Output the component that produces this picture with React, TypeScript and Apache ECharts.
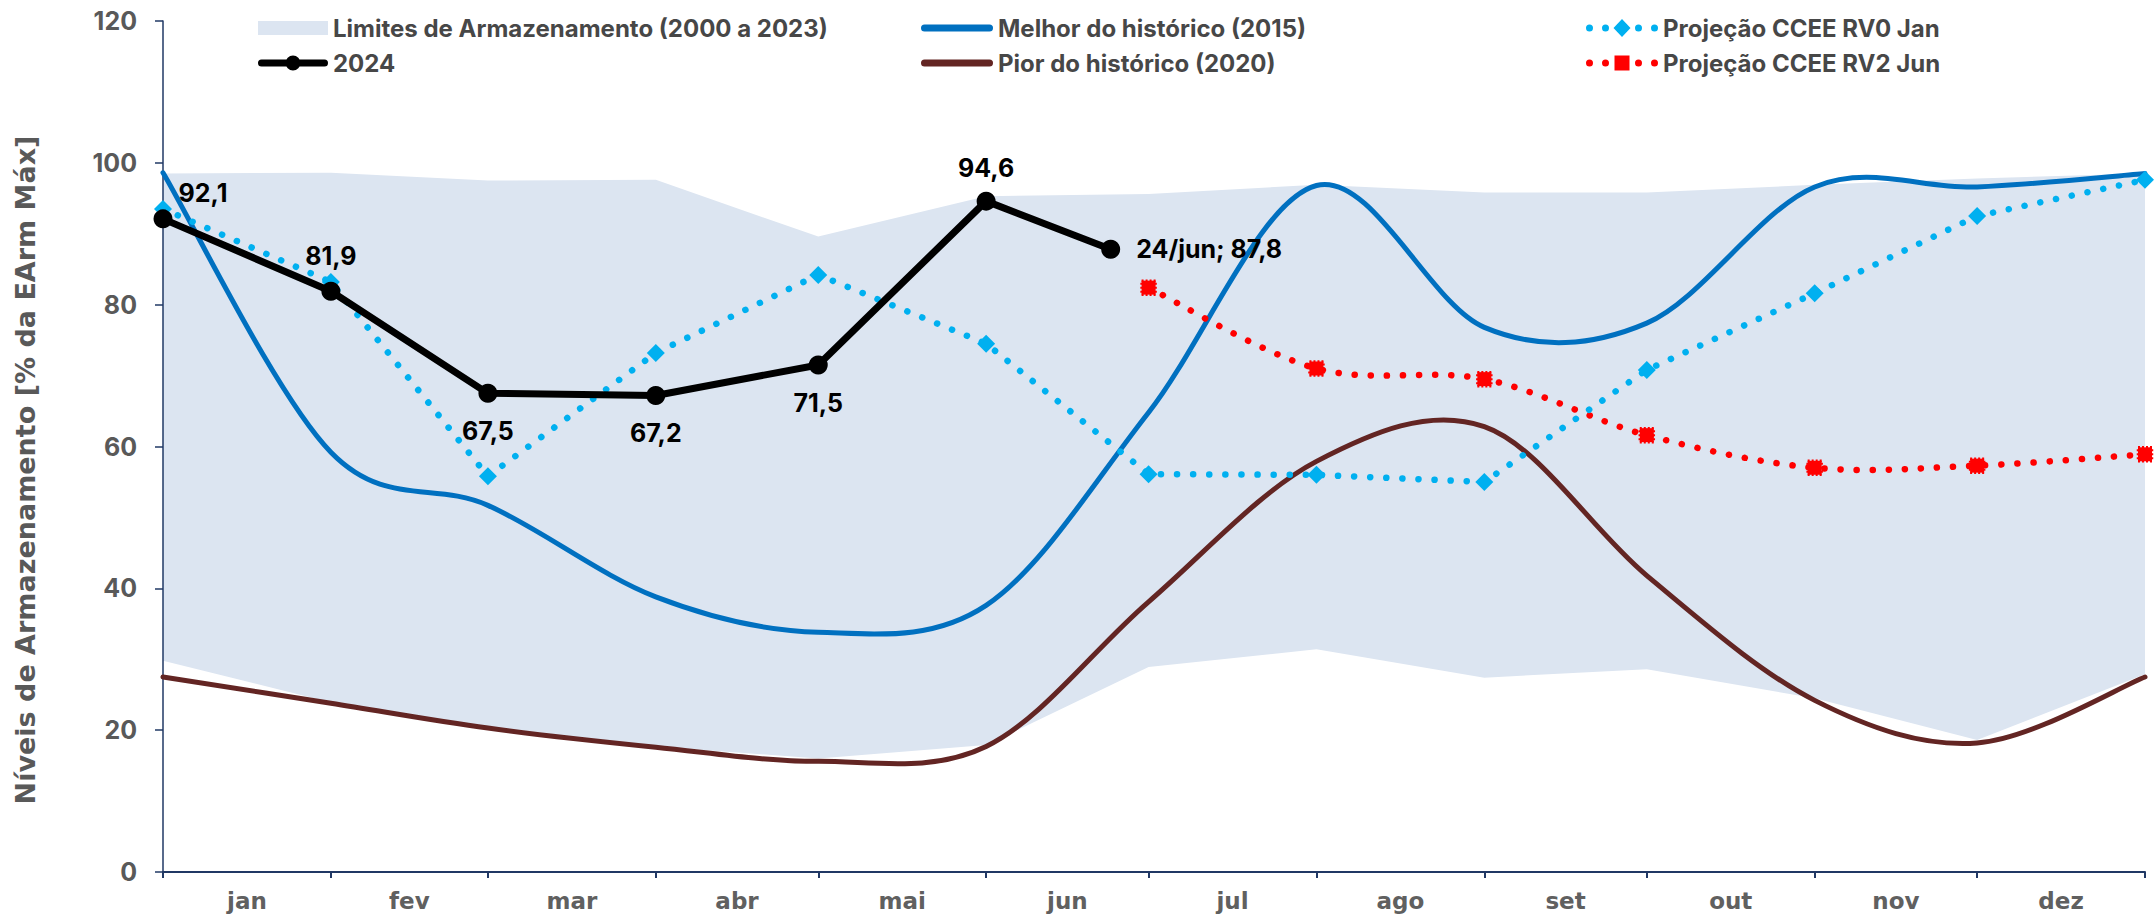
import React, { useEffect, useRef } from 'react';
import * as echarts from 'echarts';

// ---------- data ----------
const YEAR = 2024;
const monthLabels = ['jan', 'fev', 'mar', 'abr', 'mai', 'jun', 'jul', 'ago', 'set', 'out', 'nov', 'dez'];

// values at the first day of each month (jan .. dez) plus 01/jan of next year
const bandUpper = [98.5, 98.6, 97.5, 97.6, 89.6, 95.3, 95.6, 96.9, 95.8, 95.8, 96.9, 97.8, 98.5];
const bandLower = [29.8, 23.9, 20.3, 17.7, 16.0, 17.9, 28.9, 31.4, 27.4, 28.6, 24.5, 18.6, 27.9];
const melhor2015 = [98.6, 59.2, 51.7, 38.8, 33.8, 37.6, 64.8, 96.8, 76.8, 77.4, 96.6, 96.6, 98.5];
const pior2020 = [27.5, 23.8, 20.3, 17.6, 15.6, 17.7, 38.1, 57.9, 62.8, 41.8, 24.2, 18.2, 27.5];
const rv0Jan = [93.5, 83.2, 55.8, 73.2, 84.2, 74.5, 56.1, 56.0, 55.0, 70.8, 81.6, 92.5, 97.6];
const rv2JunStartMonth = 6; // jul
const rv2Jun = [82.4, 71.0, 69.5, 61.6, 57.0, 57.3, 58.9];

const dates2024 = ['2024-01-01', '2024-02-01', '2024-03-01', '2024-04-01', '2024-05-01', '2024-06-01', '2024-06-24'];
const values2024 = [92.1, 81.9, 67.5, 67.2, 71.5, 94.6, 87.8];
const lastLabelDate = '24/jun';

const LIMITES = 'Limites de Armazenamento (2000 a 2023)';
const S2024 = '2024';
const MELHOR = 'Melhor do histórico (2015)';
const PIOR = 'Pior do histórico (2020)';
const RV0 = 'Projeção CCEE RV0 Jan';
const RV2 = 'Projeção CCEE RV2 Jun';

// ---------- helpers ----------
const DAY = 86400000;
const yearStart = Date.UTC(YEAR, 0, 1);
const dayOf = (iso: string) => (Date.parse(iso) - yearStart) / DAY;
const monthStartDays: number[] = [];
for (let m = 0; m <= 12; m++) monthStartDays.push((Date.UTC(YEAR, m, 1) - yearStart) / DAY);
const monthMidDays = monthLabels.map((_, i) => (monthStartDays[i] + monthStartDays[i + 1]) / 2);
const totalDays = monthStartDays[12];

const pairs = (vals: number[], offset = 0) => vals.map((v, i) => [monthStartDays[i + offset], v]);
const fmt = (v: number) => v.toFixed(1).replace('.', ',');

const bandColor = '#DCE5F1';
const axisColor = '#203864';
const labelFont = 'Inter';
const BLUE = '#0070C0';
const BROWN = '#632523';
const CYAN = '#00B0F0';
const RED = '#FF0000';
const DOT = [0.1, 16];

// ---------- legend icons ----------
const circ = (cx: number, cy: number, r: number) =>
  `M${cx - r},${cy} A${r},${r} 0 1 1 ${cx + r},${cy} A${r},${r} 0 1 1 ${cx - r},${cy} Z`;
const capsule = (x0: number, x1: number, cy: number, r: number) =>
  `M${x0},${cy - r} L${x1},${cy - r} A${r},${r} 0 0 1 ${x1},${cy + r} L${x0},${cy + r} A${r},${r} 0 0 1 ${x0},${cy - r} Z`;
const dots = (cy: number) => [3.5, 19.5, 52.5, 68.5].map((x) => circ(x, cy, 3.5)).join(' ');
const icon2024 = 'path://' + capsule(3.5, 66.5, 8, 3.5) + ' ' + circ(35, 8, 7.5);
const iconThick = 'path://' + capsule(3.5, 68.5, 3.5, 3.5);
const iconRV0 = 'path://' + dots(9) + ' M36,0 L44.5,9 L36,18 L27.5,9 Z';
const iconRV2 = 'path://' + dots(9) + ' M28.5,1.5 L43.5,1.5 L43.5,16.5 L28.5,16.5 Z';

// Excel-like smoothed line (cardinal spline through the data points)
const SmoothCurve = (echarts as any).graphic.extendShape({
  type: 'smoothCurve',
  shape: { points: [] as number[][] },
  buildPath(ctx: any, shape: any) {
    const p = shape.points as number[][];
    if (!p || p.length < 2) return;
    ctx.moveTo(p[0][0], p[0][1]);
    for (let i = 0; i < p.length - 1; i++) {
      const p0 = p[i - 1] || p[i];
      const p1 = p[i];
      const p2 = p[i + 1];
      const p3 = p[i + 2] || p2;
      ctx.bezierCurveTo(
        p1[0] + (p2[0] - p0[0]) / 6,
        p1[1] + (p2[1] - p0[1]) / 6,
        p2[0] - (p3[0] - p1[0]) / 6,
        p2[1] - (p3[1] - p1[1]) / 6,
        p2[0],
        p2[1]
      );
    }
  },
});
(echarts as any).graphic.registerShape('smoothCurve', SmoothCurve);

const curveSeries = (name: string, data: number[][], color: string, width: number, z: number, dash?: number[]) => ({
  name,
  type: 'custom',
  coordinateSystem: 'cartesian2d',
  data,
  encode: { x: 0, y: 1 },
  color,
  itemStyle: { color },
  silent: true,
  z,
  renderItem: (params: any, api: any) => {
    if (params.dataIndexInside !== 0) return null;
    const pts: number[][] = [];
    for (let i = 0; i < params.dataInsideLength; i++) {
      pts.push(api.coord([api.value(0, i), api.value(1, i)]));
    }
    return {
      type: 'smoothCurve',
      shape: { points: pts },
      style: {
        fill: 'none',
        stroke: color,
        lineWidth: width,
        lineCap: 'round',
        lineJoin: 'round',
        lineDash: dash,
      },
    };
  },
});

export default function App() {
  const ref = useRef<HTMLDivElement>(null);
  useEffect(() => {
    if (!ref.current) return;
    const chart = echarts.init(ref.current, undefined, { renderer: 'svg' });

    const labelPos: any[] = [
      { position: 'top', offset: [40, 6] },
      { position: 'top', offset: [0, -3] },
      { position: 'bottom', offset: [0, 6] },
      { position: 'bottom', offset: [0, 6] },
      { position: 'bottom', offset: [0, 6] },
      { position: 'top', offset: [0, -1] },
      { position: 'right', distance: 16 },
    ];
    const data2024 = dates2024.map((d, i) => ({
      value: [dayOf(d), values2024[i]],
      label: {
        ...labelPos[i],
        formatter: i === dates2024.length - 1 ? `${lastLabelDate}; ${fmt(values2024[i])}` : fmt(values2024[i]),
      },
    }));

    const legendText = {
      fontFamily: labelFont,
      fontWeight: 'bold',
      fontSize: 24,
      color: '#474747',
      lineHeight: 30,
    };
    const row = [13, 48];
    const lg = (left: number, top: number, itemWidth: number, itemHeight: number, item: any) => ({
      orient: 'vertical',
      left,
      top,
      padding: 0,
      itemWidth,
      itemHeight,
      selectedMode: false,
      textStyle: legendText,
      data: [item],
    });

    const option: any = {
      animation: false,
      grid: { left: 163, right: 9, top: 21, bottom: 45, containLabel: false },
      legend: [
        lg(258, row[0], 70, 14, { name: LIMITES, icon: 'rect', itemStyle: { color: bandColor, borderWidth: 0 } }),
        lg(258, row[1], 70, 15, { name: S2024, icon: icon2024, itemStyle: { color: '#000000', borderWidth: 0 } }),
        lg(921, row[0], 72, 7, { name: MELHOR, icon: iconThick, itemStyle: { color: BLUE, borderWidth: 0 } }),
        lg(921, row[1], 72, 7, { name: PIOR, icon: iconThick, itemStyle: { color: BROWN, borderWidth: 0 } }),
        lg(1586, row[0], 72, 18, { name: RV0, icon: iconRV0, itemStyle: { color: CYAN, borderWidth: 0 } }),
        lg(1586, row[1], 72, 18, { name: RV2, icon: iconRV2, itemStyle: { color: RED, borderWidth: 0 } }),
      ],
      graphic: [
        {
          type: 'text',
          x: 25,
          y: 470,
          rotation: Math.PI / 2,
          style: {
            text: 'Níveis de Armazenamento [% da EArm Máx]',
            fontFamily: 'DejaVu Sans',
            fontWeight: 'bold',
            fontSize: 27,
            fill: '#595959',
            align: 'center',
            verticalAlign: 'middle',
          },
        },
      ],
      xAxis: {
        type: 'value',
        min: 0,
        max: totalDays,
        z: 3,
        axisLine: { show: true, lineStyle: { color: axisColor, width: 2 } },
        axisTick: { show: true, customValues: monthStartDays, length: 6, lineStyle: { color: axisColor, width: 2 } },
        axisLabel: {
          customValues: monthMidDays,
          formatter: (v: number) => {
            let best = 0;
            monthMidDays.forEach((m, i) => {
              if (Math.abs(m - v) < Math.abs(monthMidDays[best] - v)) best = i;
            });
            return monthLabels[best];
          },
          margin: 17,
          fontFamily: 'DejaVu Sans',
          fontWeight: 'bold',
          fontSize: 23,
          color: '#606060',
        },
        splitLine: { show: false },
      },
      yAxis: {
        type: 'value',
        min: 0,
        max: 120,
        interval: 20,
        z: 3,
        axisLine: { show: true, lineStyle: { color: axisColor, width: 1.5 } },
        axisTick: { show: true, length: 8, lineStyle: { color: axisColor, width: 1.5 } },
        axisLabel: { margin: 26, fontFamily: labelFont, fontWeight: 'bold', fontSize: 25, color: '#595959' },
        splitLine: { show: false },
      },
      series: [
        {
          name: LIMITES,
          type: 'line',
          data: pairs(bandUpper),
          symbol: 'none',
          silent: true,
          color: bandColor,
          itemStyle: { color: bandColor },
          lineStyle: { width: 0, opacity: 0 },
          areaStyle: { color: bandColor, opacity: 1 },
          z: 1,
        },
        {
          name: 'limiteInferior',
          type: 'line',
          data: pairs(bandLower),
          symbol: 'none',
          silent: true,
          color: '#ffffff',
          lineStyle: { width: 0, opacity: 0 },
          areaStyle: { color: '#ffffff', opacity: 1 },
          z: 2,
        },
        curveSeries(MELHOR, pairs(melhor2015), BLUE, 5, 4),
        curveSeries(PIOR, pairs(pior2020), BROWN, 5, 4),
        {
          name: RV0,
          type: 'line',
          data: pairs(rv0Jan),
          symbol: 'diamond',
          symbolSize: 18,
          color: CYAN,
          itemStyle: { color: CYAN },
          lineStyle: { color: CYAN, width: 6.5, type: DOT, cap: 'round' },
          z: 5,
        },
        curveSeries('rv2Curve', pairs(rv2Jun, rv2JunStartMonth), RED, 6.5, 5, DOT),
        {
          name: RV2,
          type: 'line',
          data: pairs(rv2Jun, rv2JunStartMonth),
          symbol: 'rect',
          symbolSize: 14,
          color: RED,
          itemStyle: { color: RED, borderColor: RED, borderWidth: 2.5, borderType: [2, 2] },
          lineStyle: { width: 0, opacity: 0 },
          z: 6,
        },
        {
          name: S2024,
          type: 'line',
          data: data2024,
          symbol: 'circle',
          symbolSize: 19,
          color: '#000000',
          itemStyle: { color: '#000000' },
          lineStyle: { color: '#000000', width: 7, cap: 'round' },
          label: {
            show: true,
            distance: 10,
            fontFamily: labelFont,
            fontWeight: 'bold',
            fontSize: 25,
            color: '#000000',
          },
          z: 7,
        },
      ],
    };
    chart.setOption(option);
    return () => chart.dispose();
  }, []);

  return (
    <div
      ref={ref}
      style={{ position: 'fixed', left: 0, top: 0, width: 2154, height: 917, background: '#ffffff' }}
    />
  );
}
